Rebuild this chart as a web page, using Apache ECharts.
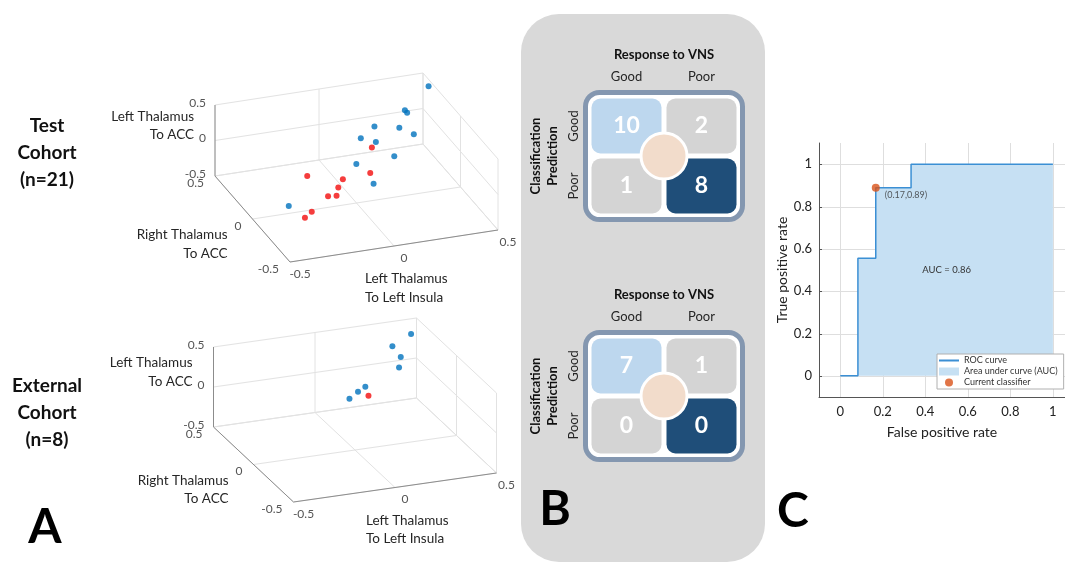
<!DOCTYPE html>
<html>
<head>
<meta charset="utf-8">
<script src="https://cdn.jsdelivr.net/npm/echarts@6/dist/echarts.min.js"></script>
<style>
  html, body { margin: 0; padding: 0; background: #fff; }
  #chart { width: 1065px; height: 564px; }
</style>
</head>
<body>
<div id="chart"></div>
<script>
  var FONT = 'Lato';

  var axisTicks3d = [-0.5, 0, 0.5];

  // test cohort, good responders (blue)
  var testGoodX = [0.48, 0.33, 0.33, 0.18, 0.26, 0.29, 0.10, 0.14, 0.16, 0.01, 0.01, -0.34];
  var testGoodY = [0.37, 0.27, 0.24, 0.26, 0.15, 0.04, 0.22, 0.13, -0.06, 0.03, -0.20, -0.04];
  var testGoodZ = [0.48, 0.33, 0.33, 0.18, 0.26, 0.29, 0.10, 0.14, 0.16, 0.01, 0.01, -0.34];
  // test cohort, poor responders (red)
  var testPoorX = [0.11, 0.03, -0.19, -0.08, -0.12, -0.18, -0.15, -0.28, -0.32];
  var testPoorY = [0.10, -0.10, 0.13, -0.04, -0.09, -0.12, -0.15, -0.18, -0.20];
  var testPoorZ = [0.11, 0.03, -0.19, -0.08, -0.12, -0.18, -0.15, -0.28, -0.32];
  // external cohort
  var extGoodX = [0.43, 0.33, 0.32, 0.28, 0.11, 0.07, 0.02];
  var extGoodY = [0.39, 0.37, 0.24, 0.16, 0.15, 0.14, 0.12];
  var extGoodZ = [0.43, 0.33, 0.32, 0.28, 0.11, 0.07, 0.02];
  var extPoorX = [0.09];
  var extPoorY = [0.06];
  var extPoorZ = [0.09];

  // ---- panel B : confusion matrices (rows = prediction, cols = response) ----
  var responseCats = ['Good', 'Poor'];
  var predictionCats = ['Good', 'Poor'];
  var testMatrix = [[10, 2], [1, 8]];
  var externalMatrix = [[7, 1], [0, 0]];

  // ---- panel C : ROC ----
  var rocTicks = [0, 0.2, 0.4, 0.6, 0.8, 1];
  var rocFpr = [0, 0.083, 0.083, 0.167, 0.167, 0.333, 0.333, 1];
  var rocTpr = [0, 0, 0.556, 0.556, 0.889, 0.889, 1, 1];
  var classifierPoint = [0.167, 0.889];
  var aucValue = 0.86;
  var rocXRange = [-0.1, 1.057];   // the axis runs off the right edge of the figure
  var rocYRange = [-0.1, 1.1];

  // view of each 3-D box: screen vectors of one data unit (y up)
  var viewTest = { ex: [208, 32], ey: [-75, 86], ez: 71 };
  var viewExt = { ex: [203, 29], ey: [-80, 75], ez: 80 };

  function project(view, x, y, z) {
    return [view.ex[0] * x + view.ey[0] * y, view.ex[1] * x + view.ey[1] * y + view.ez * z];
  }
  function projectSet(view, xs, ys, zs) {
    return xs.map(function (x, i) { return project(view, x, ys[i], zs[i]); });
  }
  function fmt(t) { return t === 0 ? '0' : String(t); }

  // box, grid lines, tick labels and titles of a 3-D view
  function boxRender(view) {
    return function (params, api) {
      var lo = axisTicks3d[0], hi = axisTicks3d[axisTicks3d.length - 1];
      var P = function (x, y, z) { return api.coord(project(view, x, y, z)); };
      var kids = [];
      function seg(a, b, color) {
        kids.push({ type: 'line', shape: { x1: a[0], y1: a[1], x2: b[0], y2: b[1] },
                    style: { stroke: color, lineWidth: 1 } });
      }
      function txt(p, dx, dy, s, align, size, color) {
        kids.push({ type: 'text', style: { text: s, x: p[0] + dx, y: p[1] + dy, align: align,
                    verticalAlign: 'middle', fill: color, fontSize: size, fontFamily: FONT, lineHeight: size + 5 } });
      }
      var GRID = '#e2e2e2', AX = '#8c8c8c';
      axisTicks3d.forEach(function (t) {
        seg(P(t, lo, lo), P(t, hi, lo), GRID);
        seg(P(lo, t, lo), P(hi, t, lo), GRID);
        seg(P(t, hi, lo), P(t, hi, hi), GRID);
        seg(P(lo, hi, t), P(hi, hi, t), GRID);
        seg(P(hi, t, lo), P(hi, t, hi), GRID);
        seg(P(hi, lo, t), P(hi, hi, t), GRID);
      });
      seg(P(lo, lo, lo), P(hi, lo, lo), AX);
      seg(P(lo, lo, lo), P(lo, hi, lo), AX);
      seg(P(lo, hi, lo), P(lo, hi, hi), AX);
      axisTicks3d.forEach(function (t) {
        txt(P(t, lo, lo), 10, 12, fmt(t), 'center', 12, '#555');
        txt(P(lo, t, lo), -11, 7, fmt(t), 'right', 12, '#555');
        txt(P(lo, hi, t), -9, -2, fmt(t), 'right', 12, '#555');
      });
      txt(P(0, lo, lo), -29, 42, 'Left Thalamus\nTo Left Insula', 'left', 13.5, '#262626');
      txt(P(lo, 0, lo), -25, 25, 'Right Thalamus\nTo ACC', 'right', 13.5, '#262626');
      txt(P(lo, hi, 0), -21, -15, 'Left Thalamus\nTo ACC', 'right', 13.5, '#262626');
      return { type: 'group', children: kids };
    };
  }

  // light ROC grid, drawn under the AUC fill (snapped to pixel centres so it stays crisp)
  function rocGridRender(params, api) {
    var kids = [];
    var snap = function (v) { return Math.round(v) + 0.5; };
    rocTicks.forEach(function (t) {
      var a = api.coord([t, rocYRange[0]]), b = api.coord([t, rocYRange[1]]);
      kids.push({ type: 'line', shape: { x1: snap(a[0]), y1: a[1], x2: snap(b[0]), y2: b[1] },
                  style: { stroke: '#dedede', lineWidth: 1 } });
      var c = api.coord([rocXRange[0], t]), d = api.coord([rocXRange[1], t]);
      kids.push({ type: 'line', shape: { x1: c[0], y1: snap(c[1]), x2: d[0], y2: snap(d[1]) },
                  style: { stroke: '#dedede', lineWidth: 1 } });
      kids.push({ type: 'line', shape: { x1: c[0], y1: snap(c[1]), x2: c[0] + 3, y2: snap(c[1]) },
                  style: { stroke: '#555', lineWidth: 1 } });
    });
    return { type: 'group', children: kids };
  }

  function matrixData(m) {
    var out = [];
    predictionCats.forEach(function (p, i) {
      responseCats.forEach(function (r, j) { out.push([r, p, m[i][j]]); });
    });
    return out;
  }

  function cellRender(params, api) {
    var ci = api.value(0), ri = api.value(1);
    var c = api.coord([ci, ri]);
    var s = api.size([1, 1]);
    var w = s[0] - 5, h = s[1] - 5;
    var fill = ci !== ri ? '#d4d4d4' : (ci === 0 ? '#bdd7ee' : '#1f4e79');
    return {
      type: 'group',
      children: [
        { type: 'rect', shape: { x: c[0] - w / 2, y: c[1] - h / 2, width: w, height: h, r: 9 }, style: { fill: fill } },
        { type: 'text', style: { text: String(api.value(2)), x: c[0], y: c[1], align: 'center', verticalAlign: 'middle',
          fill: '#ffffff', fontSize: 23, fontWeight: 'bold', fontFamily: FONT } }
      ]
    };
  }
  function frameRender(params, api) {
    var cs = params.coordSys;
    return { type: 'rect', shape: { x: cs.x - 3.5, y: cs.y - 3.5, width: cs.width + 7, height: cs.height + 7, r: 14 },
             style: { fill: '#ffffff', stroke: '#8497b0', lineWidth: 5 } };
  }
  function hubRender(params, api) {
    var cs = params.coordSys;
    return { type: 'circle', shape: { cx: cs.x + cs.width / 2, cy: cs.y + cs.height / 2, r: 23 },
             style: { fill: '#f2dccb', stroke: '#ffffff', lineWidth: 3 } };
  }

  function matrixAxes(gi) {
    return {
      x: { gridIndex: gi, type: 'category', data: responseCats, position: 'top',
           axisLine: { show: false }, axisTick: { show: false }, splitLine: { show: false },
           axisLabel: { fontSize: 13, color: '#262626', margin: 13, fontFamily: FONT },
           name: 'Response to VNS', nameLocation: 'middle', nameGap: 35,
           nameTextStyle: { fontWeight: 'bold', fontSize: 13, color: '#111', fontFamily: FONT } },
      y: { gridIndex: gi, type: 'category', data: predictionCats, inverse: true,
           axisLine: { show: false }, axisTick: { show: false }, splitLine: { show: false },
           axisLabel: { rotate: 90, fontSize: 13, color: '#262626', margin: 9, fontFamily: FONT },
           name: 'Classification\nPrediction', nameLocation: 'middle', nameGap: 28, nameRotate: 90,
           nameTextStyle: { fontWeight: 'bold', fontSize: 13, lineHeight: 17, color: '#111', fontFamily: FONT } }
    };
  }
  var mTop = matrixAxes(2), mBot = matrixAxes(3);

  var hiddenX = function (gi) { return { gridIndex: gi, type: 'value', min: -250, max: 250, show: false }; };
  var hiddenY = function (gi) { return { gridIndex: gi, type: 'value', min: -150, max: 150, show: false }; };

  var rocData = rocFpr.map(function (x, i) { return [x, rocTpr[i]]; });

  var chart = echarts.init(document.getElementById('chart'));
  chart.setOption({
    animation: false,
    backgroundColor: '#ffffff',
    textStyle: { fontFamily: FONT },
    grid: [
      { left: 106.5, top: 17.5, width: 500, height: 300 },
      { left: 105, top: 260, width: 500, height: 300 },
      { left: 589, top: 96, width: 150, height: 120 },
      { left: 589, top: 336, width: 150, height: 120 },
      { left: 819, top: 143, right: 0, height: 254 }
    ],
    xAxis: [
      hiddenX(0), hiddenX(1), mTop.x, mBot.x,
      { gridIndex: 4, type: 'value', min: rocXRange[0], max: rocXRange[1], splitNumber: 6,
        axisLine: { onZero: false, lineStyle: { color: '#555' } }, axisTick: { show: false },
        splitLine: { show: false },
        axisLabel: { fontSize: 13, color: '#222', margin: 8, showMinLabel: false, showMaxLabel: false },
        name: 'False positive rate', nameLocation: 'middle', nameGap: 28,
        nameTextStyle: { fontSize: 14, color: '#222' } }
    ],
    yAxis: [
      hiddenY(0), hiddenY(1), mTop.y, mBot.y,
      { gridIndex: 4, type: 'value', min: rocYRange[0], max: rocYRange[1], splitNumber: 6,
        axisLine: { show: true, onZero: false, lineStyle: { color: '#555' } }, axisTick: { show: false },
        splitLine: { show: false },
        axisLabel: { fontSize: 13, color: '#222', margin: 7, showMinLabel: false, showMaxLabel: false },
        name: 'True positive rate', nameLocation: 'middle', nameGap: 30,
        nameTextStyle: { fontSize: 14, color: '#222' } }
    ],
    legend: {
      orient: 'vertical', left: 937, top: 354,
      backgroundColor: '#ffffff', borderColor: '#b0b0b0', borderWidth: 1, borderRadius: 0,
      padding: [2, 6, 2, 2], itemGap: 2, itemWidth: 20, itemHeight: 8,
      textStyle: { fontSize: 9, color: '#333', fontFamily: FONT },
      data: [
        { name: 'ROC curve', icon: 'path://M0,0 H20 V2 H0 Z' },
        { name: 'Area under curve (AUC)', icon: 'rect' },
        { name: 'Current classifier', icon: 'circle' }
      ]
    },
    graphic: [
      { type: 'rect', z: -5, shape: { x: 521, y: 14, width: 244, height: 548, r: 38 }, style: { fill: '#d9d9d9' } },
      { type: 'text', style: { text: 'Test\nCohort\n(n=21)', x: 47, y: 153, align: 'center', verticalAlign: 'middle',
        fontSize: 19, fontWeight: 'bold', lineHeight: 27, fill: '#111', fontFamily: FONT } },
      { type: 'text', style: { text: 'External\nCohort\n(n=8)', x: 47, y: 413, align: 'center', verticalAlign: 'middle',
        fontSize: 19, fontWeight: 'bold', lineHeight: 27, fill: '#111', fontFamily: FONT } },
      { type: 'text', style: { text: 'A', x: 45, y: 528, align: 'center', verticalAlign: 'middle',
        fontSize: 48, fontWeight: 'bold', fill: '#000', fontFamily: FONT } },
      { type: 'text', style: { text: 'B', x: 555, y: 510, align: 'center', verticalAlign: 'middle',
        fontSize: 48, fontWeight: 'bold', fill: '#000', fontFamily: FONT } },
      { type: 'text', style: { text: 'C', x: 793, y: 512, align: 'center', verticalAlign: 'middle',
        fontSize: 48, fontWeight: 'bold', fill: '#000', fontFamily: FONT } }
    ],
    series: [
      { type: 'custom', name: 'box-test', xAxisIndex: 0, yAxisIndex: 0, data: [[0, 0]], renderItem: boxRender(viewTest), silent: true, z: 1 },
      { type: 'custom', name: 'box-ext', xAxisIndex: 1, yAxisIndex: 1, data: [[0, 0]], renderItem: boxRender(viewExt), silent: true, z: 1 },
      { type: 'scatter', name: 'test good', xAxisIndex: 0, yAxisIndex: 0, symbolSize: 6, z: 5,
        itemStyle: { color: '#0072bd' }, data: projectSet(viewTest, testGoodX, testGoodY, testGoodZ) },
      { type: 'scatter', name: 'test poor', xAxisIndex: 0, yAxisIndex: 0, symbolSize: 6, z: 5,
        itemStyle: { color: '#f20d0d' }, data: projectSet(viewTest, testPoorX, testPoorY, testPoorZ) },
      { type: 'scatter', name: 'ext good', xAxisIndex: 1, yAxisIndex: 1, symbolSize: 6, z: 5,
        itemStyle: { color: '#0072bd' }, data: projectSet(viewExt, extGoodX, extGoodY, extGoodZ) },
      { type: 'scatter', name: 'ext poor', xAxisIndex: 1, yAxisIndex: 1, symbolSize: 6, z: 5,
        itemStyle: { color: '#f20d0d' }, data: projectSet(viewExt, extPoorX, extPoorY, extPoorZ) },

      { type: 'custom', xAxisIndex: 2, yAxisIndex: 2, data: [[0, 0]], renderItem: frameRender, silent: true, z: 2 },
      { type: 'custom', xAxisIndex: 2, yAxisIndex: 2, data: matrixData(testMatrix), renderItem: cellRender, z: 3 },
      { type: 'custom', xAxisIndex: 2, yAxisIndex: 2, data: [[0, 0]], renderItem: hubRender, silent: true, z: 4 },
      { type: 'custom', xAxisIndex: 3, yAxisIndex: 3, data: [[0, 0]], renderItem: frameRender, silent: true, z: 2 },
      { type: 'custom', xAxisIndex: 3, yAxisIndex: 3, data: matrixData(externalMatrix), renderItem: cellRender, z: 3 },
      { type: 'custom', xAxisIndex: 3, yAxisIndex: 3, data: [[0, 0]], renderItem: hubRender, silent: true, z: 4 },

      { type: 'custom', name: 'roc-grid', xAxisIndex: 4, yAxisIndex: 4, data: [[0, 0]], renderItem: rocGridRender, silent: true, z: 1 },
      { type: 'line', name: 'Area under curve (AUC)', xAxisIndex: 4, yAxisIndex: 4, data: rocData,
        symbol: 'none', color: '#c6e0f3', lineStyle: { width: 0 }, areaStyle: { color: '#c6e0f3', opacity: 1 }, z: 2,
        markPoint: { symbol: 'circle', symbolSize: 0, silent: true,
          label: { show: true, position: 'inside', formatter: 'AUC = ' + aucValue, fontSize: 9.5, color: '#333' },
          data: [{ coord: [0.5, 0.5] }] } },
      { type: 'line', name: 'ROC curve', xAxisIndex: 4, yAxisIndex: 4, data: rocData,
        symbol: 'none', color: '#3b8fd4', lineStyle: { width: 1.5, color: '#3b8fd4' }, z: 3 },
      { type: 'scatter', name: 'Current classifier', xAxisIndex: 4, yAxisIndex: 4, data: [classifierPoint],
        symbolSize: 8, color: '#d95319', itemStyle: { color: '#d95319' }, z: 4,
        label: { show: true, position: 'right', offset: [0, 7], fontSize: 9, color: '#333',
          formatter: '(' + classifierPoint[0].toFixed(2) + ',' + classifierPoint[1].toFixed(2) + ')' } }
    ]
  });
</script>
</body>
</html>
